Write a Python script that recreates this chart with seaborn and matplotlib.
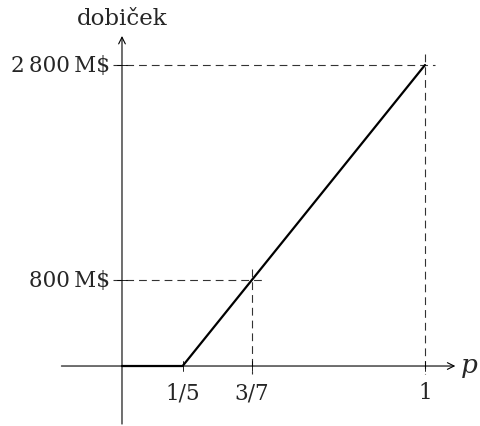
import numpy as np
import pandas as pd
import matplotlib
matplotlib.use("Agg")
from matplotlib import pyplot as plt
import seaborn as sns

# profit as a function of p
p_points = [0, 1 / 5, 1]
profit_points = [0, 0, 2800]

# dashed guides (x, y)
guide_p = [3 / 7, 1]
guide_profit = [800, 2800]

x_tick_pos = [1 / 5, 3 / 7, 1]
x_tick_labels = ["1/5", "3/7", "1"]
y_tick_pos = [800, 2800]
y_tick_labels = ["800\u2009M$", "2\u2009800\u2009M$"]

sns.set_theme(style="white")
plt.rcParams['font.family'] = ['DejaVu Serif', 'DejaVu Sans']
plt.rcParams['mathtext.fontset'] = 'dejavuserif'

fig = plt.figure(figsize=(4.8, 4.27), dpi=100)
ax = fig.add_axes([0, 0, 1, 1])
ax.set_xlim(-0.4026, 1.1815)
ax.set_ylim(-558, 3414)
ax.axis("off")

dash = dict(color="#333333", lw=0.8, ls=(0, (7, 4.5)))
for gp, gy in zip(guide_p, guide_profit):
    ax.plot([-0.03, gp + 0.033], [gy, gy], **dash)
    ax.plot([gp, gp], [gy + 100, -75], **dash)

# axes with arrows
ax.annotate("", xy=(1.1, 0), xytext=(-0.2, 0),
            arrowprops=dict(arrowstyle="->", lw=0.8, color="black", shrinkA=0, shrinkB=0))
ax.annotate("", xy=(0, 3070), xytext=(0, -540),
            arrowprops=dict(arrowstyle="->", lw=0.8, color="black", shrinkA=0, shrinkB=0))

# ticks
for xt in x_tick_pos:
    ax.plot([xt, xt], [-50, 50], color="black", lw=0.6)
for yt in y_tick_pos:
    ax.plot([-0.018, 0.018], [yt, yt], color="black", lw=0.6)

df = pd.DataFrame({"p": p_points, "dobicek": profit_points})
sns.lineplot(data=df, x="p", y="dobicek", ax=ax, color="black", lw=1.6, sort=False)

for xt, lab in zip(x_tick_pos, x_tick_labels):
    ax.text(xt, -140, lab, ha="center", va="top", fontsize=15.5)
for yt, lab in zip(y_tick_pos, y_tick_labels):
    ax.text(-0.04, yt, lab, ha="right", va="center", fontsize=15.5)

ax.text(1.115, 0, "$p$", ha="left", va="center", fontsize=19)
ax.text(0, 3240, "dobiček", ha="center", va="center", fontsize=16.5)

fig.savefig("out.png", dpi=100)
